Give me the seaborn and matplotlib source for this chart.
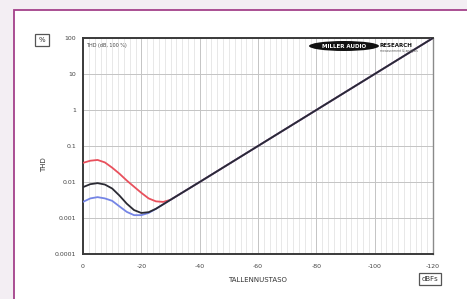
import matplotlib
matplotlib.use("Agg")
import matplotlib.pyplot as plt
import matplotlib.patches as mpatches
from matplotlib.ticker import FixedLocator
import numpy as np
import pandas as pd
import seaborn as sns

# ---- data ----
levels = [0, -2.5, -5, -7.5, -10, -12.5, -15, -17.5, -20, -22.5, -25, -27.5, -30,
          -40, -60, -80, -100, -120]
thd_red = [0.034, 0.039, 0.041, 0.035, 0.025, 0.017, 0.011, 0.0074, 0.005, 0.0035,
           0.0029, 0.0028, 0.0032, 0.01, 0.1, 1, 10, 100]
thd_black = [0.0072, 0.0087, 0.0093, 0.0085, 0.0066, 0.0042, 0.0025, 0.00166, 0.00138,
             0.00145, 0.0018, 0.0024, 0.0032, 0.01, 0.1, 1, 10, 100]
thd_blue = [0.0028, 0.0035, 0.0038, 0.0035, 0.0030, 0.0021, 0.00148, 0.0012, 0.0012,
            0.00138, 0.0018, 0.0024, 0.0032, 0.01, 0.1, 1, 10, 100]
series_names = ["red", "blue", "black"]
series_colors = ["#e8505c", "#7585e5", "#2a2a33"]

ytick_vals = [100, 10, 1, 0.1, 0.01, 0.001, 0.0001]
ytick_labels = ["100", "10", "1", "0.1", "0.01", "0.001", "0.0001"]
xtick_vals = [0, -20, -40, -60, -80, -100, -120]
xtick_labels = ["0", "-20", "-40", "-60", "-80", "-100", "-120"]

df = pd.concat([
    pd.DataFrame({"level": levels, "thd": thd_red, "s": "red"}),
    pd.DataFrame({"level": levels, "thd": thd_blue, "s": "blue"}),
    pd.DataFrame({"level": levels, "thd": thd_black, "s": "black"}),
])

sns.set_theme(style="white")
plt.rcParams["font.family"] = ["DejaVu Sans"]

W, H = 467, 299
fig = plt.figure(figsize=(W / 100, H / 100), dpi=100)
fig.patch.set_facecolor("#f3eef3")

# white panel with magenta frame (extends off right/bottom)
panel = mpatches.Rectangle((14 / W, -0.05), 1.1, 1 - 10 / H + 0.05,
                           transform=fig.transFigure, facecolor="white",
                           edgecolor="#a4418a", linewidth=1.3, zorder=-10)
fig.patches.append(panel)

ax = fig.add_axes([83 / W, 1 - 254 / H, (433 - 83) / W, (254 - 38) / H])
ax.set_zorder(1)
ax.set_facecolor("white")

sns.lineplot(data=df, x="level", y="thd", hue="s", hue_order=series_names,
             palette=dict(zip(series_names, series_colors)), estimator=None,
             sort=False, legend=False, linewidth=1.3, ax=ax, zorder=3)

ax.set_yscale("log")
ax.set_xlim(0, -120)
ax.set_ylim(0.0001, 100)

ax.set_yticks(ytick_vals)
ax.set_yticklabels(ytick_labels)
ax.yaxis.set_minor_locator(FixedLocator([]))
ax.set_xticks(xtick_vals)
ax.set_xticklabels(xtick_labels)
ax.xaxis.set_minor_locator(FixedLocator(np.arange(0, -121, -2)))

ax.tick_params(axis="both", which="major", labelsize=4.5, colors="#444444",
               length=3, width=0.8, direction="out", pad=2)
ax.tick_params(axis="x", which="minor", length=1.5, width=0.5, colors="#777777",
               direction="out")
ax.tick_params(axis="x", which="major", pad=4)

ax.grid(True, which="major", axis="both", color="#c4c4c4", linewidth=0.7, zorder=1)
ax.grid(True, which="minor", axis="x", color="#dedede", linewidth=0.5, zorder=1)

for side in ["left", "top", "bottom"]:
    ax.spines[side].set_color("#3a3a3a")
    ax.spines[side].set_linewidth(1.4)
ax.spines["right"].set_color("#8a8a8a")
ax.spines["right"].set_linewidth(1.0)

ax.set_xlabel("TALLENNUSTASO", fontsize=5, color="#333333", labelpad=6)
ax.set_ylabel("")
fig.text(44 / W, 1 - 165 / H, "THD", rotation=90, fontsize=5, color="#333333",
         ha="center", va="center")

# unit boxes
fig.text(42 / W, 1 - 40 / H, "%", fontsize=5, color="#333333", ha="center",
         va="center", bbox=dict(boxstyle="square,pad=0.5", facecolor="white",
                                edgecolor="#555555", linewidth=0.9))
fig.text(430 / W, 1 - 279 / H, "dBFs", fontsize=5, color="#333333", ha="center",
         va="center", bbox=dict(boxstyle="square,pad=0.4", facecolor="white",
                                edgecolor="#555555", linewidth=0.9))

# in-plot caption
ax.text(0.01, 0.975, "THD (dB, 100 %)", transform=ax.transAxes, fontsize=3.5,
        color="#444444", ha="left", va="top")

# logo
ell = mpatches.Ellipse((344 / W, 1 - 46 / H), 70 / W, 10 / H,
                       transform=fig.transFigure, facecolor="#111111",
                       edgecolor="none", zorder=5)
fig.patches.append(ell)
fig.text(344 / W, 1 - 46 / H, "MILLER AUDIO", fontsize=4, color="white",
         fontweight="bold", ha="center", va="center", zorder=6)
fig.text(379 / W, 1 - 45.5 / H, "RESEARCH", fontsize=4, color="#111111",
         fontweight="bold", ha="left", va="center", zorder=6)
fig.text(380 / W, 1 - 51 / H, "measurement & analysis", fontsize=2.2,
         color="#555555", ha="left", va="center", zorder=6)

fig.savefig("out.png", dpi=100, facecolor=fig.get_facecolor())
